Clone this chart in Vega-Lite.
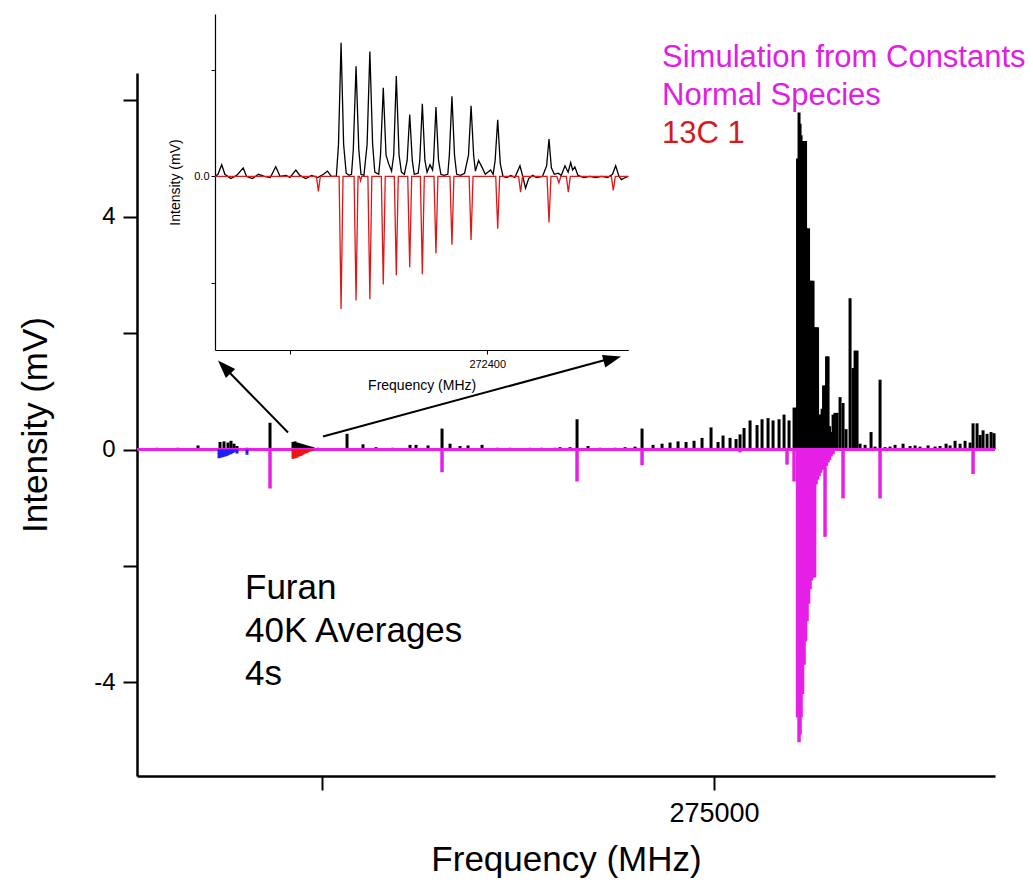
{
  "$schema": "https://vega.github.io/schema/vega-lite/v6.json",
  "width": 858,
  "height": 703,
  "autosize": {"type": "none"},
  "padding": {"left": 137, "top": 73, "right": 38, "bottom": 114},
  "background": "white",
  "config": {
    "font": "Liberation Sans",
    "view": {"stroke": null},
    "axis": {"grid": false, "domainColor": "black", "tickColor": "black", "labelColor": "black", "titleColor": "black", "titleFontWeight": "normal", "labelOverlap": false, "labelFont": "Liberation Sans", "titleFont": "Liberation Sans"}
  },
  "datasets": {
    "obs": [
      {"f": 271447.6, "v": 0.03}, {"f": 271580, "v": 0.03}, {"f": 271709.1, "v": 0.07},
      {"f": 271849.4, "v": 0.13}, {"f": 271874.9, "v": 0.14}, {"f": 271900.5, "v": 0.12}, {"f": 271919.6, "v": 0.15}, {"f": 271938.7, "v": 0.10}, {"f": 271957.9, "v": 0.06},
      {"f": 272021.6, "v": 0.03}, {"f": 272100, "v": 0.02}, {"f": 272168.3, "v": 0.46}, {"f": 272230, "v": 0.02},
      {"f": 272315.0, "v": 0.13}, {"f": 272327.8, "v": 0.14}, {"f": 272340.6, "v": 0.12}, {"f": 272353.3, "v": 0.11}, {"f": 272366.1, "v": 0.10}, {"f": 272378.8, "v": 0.09}, {"f": 272391.6, "v": 0.08}, {"f": 272404.3, "v": 0.07}, {"f": 272417.1, "v": 0.06}, {"f": 272429.8, "v": 0.05}, {"f": 272442.6, "v": 0.04}, {"f": 272474.5, "v": 0.03},
      {"f": 272659.5, "v": 0.27}, {"f": 272761.5, "v": 0.09}, {"f": 272844.4, "v": 0.04}, {"f": 272950, "v": 0.03},
      {"f": 273061.3, "v": 0.08}, {"f": 273099.5, "v": 0.08}, {"f": 273176.1, "v": 0.07}, {"f": 273265.4, "v": 0.36}, {"f": 273316.4, "v": 0.10}, {"f": 273380.2, "v": 0.06}, {"f": 273431.2, "v": 0.07}, {"f": 273520.5, "v": 0.08},
      {"f": 273620, "v": 0.03}, {"f": 273699.1, "v": 0.03}, {"f": 273826.6, "v": 0.03}, {"f": 273900, "v": 0.03}, {"f": 273986.1, "v": 0.03}, {"f": 274018, "v": 0.04}, {"f": 274081.7, "v": 0.04},
      {"f": 274126.4, "v": 0.52}, {"f": 274196.5, "v": 0.06}, {"f": 274273.1, "v": 0.03}, {"f": 274368.8, "v": 0.03}, {"f": 274432.5, "v": 0.04}, {"f": 274496.3, "v": 0.05},
      {"f": 274541, "v": 0.36}, {"f": 274611.1, "v": 0.08}, {"f": 274668.5, "v": 0.10}, {"f": 274719.5, "v": 0.12}, {"f": 274770.6, "v": 0.14}, {"f": 274821.6, "v": 0.13}, {"f": 274872.6, "v": 0.15}, {"f": 274923.6, "v": 0.20},
      {"f": 274981, "v": 0.38}, {"f": 275025.7, "v": 0.13}, {"f": 275057.6, "v": 0.24}, {"f": 275102.2, "v": 0.20}, {"f": 275140.5, "v": 0.18}, {"f": 275166, "v": 0.26},
      {"f": 275191.5, "v": 0.37}, {"f": 275229.8, "v": 0.50}, {"f": 275274.4, "v": 0.42}, {"f": 275306.3, "v": 0.52}, {"f": 275344.6, "v": 0.54}, {"f": 275376.5, "v": 0.50}, {"f": 275414.7, "v": 0.52}, {"f": 275446.6, "v": 0.60}, {"f": 275478.5, "v": 0.50}, {"f": 275510.4, "v": 0.72}, {"f": 275523.2, "v": 0.72},
      {"f": 275532.7, "v": 5.0}, {"f": 275542.3, "v": 5.79}, {"f": 275548.7, "v": 5.6}, {"f": 275555.1, "v": 5.4}, {"f": 275564.6, "v": 5.3}, {"f": 275574.2, "v": 5.3}, {"f": 275583.8, "v": 5.3},
      {"f": 275593.3, "v": 3.8}, {"f": 275602.9, "v": 3.8}, {"f": 275612.5, "v": 2.9}, {"f": 275622, "v": 2.9}, {"f": 275631.6, "v": 2.9}, {"f": 275641.2, "v": 2.1}, {"f": 275650.7, "v": 2.1}, {"f": 275660.3, "v": 2.1},
      {"f": 275669.9, "v": 0.6}, {"f": 275679.4, "v": 0.6}, {"f": 275689, "v": 0.7}, {"f": 275698.6, "v": 1.1}, {"f": 275708.1, "v": 1.1}, {"f": 275717.7, "v": 1.6}, {"f": 275727.3, "v": 1.6},
      {"f": 275736.8, "v": 0.4}, {"f": 275746.4, "v": 0.3}, {"f": 275759.2, "v": 0.6}, {"f": 275771.9, "v": 0.63}, {"f": 275784.7, "v": 0.63}, {"f": 275803.8, "v": 0.9}, {"f": 275822.9, "v": 0.8}, {"f": 275842.1, "v": 0.35},
      {"f": 275867.6, "v": 2.6}, {"f": 275886.7, "v": 1.4}, {"f": 275899.5, "v": 1.7}, {"f": 275912.2, "v": 1.7}, {"f": 275931.4, "v": 0.1}, {"f": 275963.3, "v": 0.08}, {"f": 276001.5, "v": 0.3}, {"f": 276027, "v": 0.05},
      {"f": 276058.9, "v": 1.2}, {"f": 276090.8, "v": 0.04}, {"f": 276122.7, "v": 0.05}, {"f": 276154.6, "v": 0.08}, {"f": 276205.6, "v": 0.10}, {"f": 276250.3, "v": 0.06}, {"f": 276282.2, "v": 0.07}, {"f": 276314, "v": 0.05},
      {"f": 276365.1, "v": 0.07}, {"f": 276409.7, "v": 0.05}, {"f": 276441.6, "v": 0.06}, {"f": 276479.9, "v": 0.10}, {"f": 276505.4, "v": 0.07}, {"f": 276537.3, "v": 0.15}, {"f": 276569.2, "v": 0.10}, {"f": 276601.1, "v": 0.15}, {"f": 276633, "v": 0.12},
      {"f": 276652.1, "v": 0.45}, {"f": 276677.6, "v": 0.45}, {"f": 276697, "v": 0.25}, {"f": 276715.9, "v": 0.33}, {"f": 276741.4, "v": 0.27}, {"f": 276766.9, "v": 0.30}, {"f": 276786, "v": 0.28}
    ],
    "sim": [
      {"f": 272168.3, "v": -0.67}, {"f": 273265.4, "v": -0.39}, {"f": 274126.4, "v": -0.55}, {"f": 274541, "v": -0.27}, {"f": 275166, "v": -0.05},
      {"f": 275465.8, "v": -0.26}, {"f": 275510.4, "v": -0.55}, {"f": 275532.7, "v": -4.6}, {"f": 275542.3, "v": -5.03}, {"f": 275548.7, "v": -4.9}, {"f": 275555.1, "v": -4.6},
      {"f": 275564.6, "v": -4.2}, {"f": 275574.2, "v": -3.7}, {"f": 275583.8, "v": -3.3}, {"f": 275593.3, "v": -2.95}, {"f": 275602.9, "v": -2.65}, {"f": 275612.5, "v": -2.4}, {"f": 275622, "v": -2.25},
      {"f": 275631.6, "v": -2.2}, {"f": 275641.2, "v": -2.2}, {"f": 275650.7, "v": -0.6}, {"f": 275660.3, "v": -0.52}, {"f": 275669.9, "v": -0.46}, {"f": 275679.4, "v": -0.4}, {"f": 275689, "v": -0.35},
      {"f": 275698.6, "v": -0.32}, {"f": 275708.1, "v": -1.5}, {"f": 275717.7, "v": -0.28}, {"f": 275727.3, "v": -0.22}, {"f": 275736.8, "v": -0.18}, {"f": 275746.4, "v": -0.12}, {"f": 275759.2, "v": -0.08},
      {"f": 275822.9, "v": -0.84}, {"f": 276058.9, "v": -0.84}, {"f": 276652.1, "v": -0.42}
    ],
    "iso": [
      {"f": 271843.1, "v": -0.15, "species": "13C 2"}, {"f": 271855.8, "v": -0.14, "species": "13C 2"}, {"f": 271868.6, "v": -0.13, "species": "13C 2"}, {"f": 271881.3, "v": -0.12, "species": "13C 2"},
      {"f": 271894.1, "v": -0.11, "species": "13C 2"}, {"f": 271906.8, "v": -0.09, "species": "13C 2"}, {"f": 271919.6, "v": -0.08, "species": "13C 2"}, {"f": 271932.4, "v": -0.06, "species": "13C 2"},
      {"f": 271945.1, "v": -0.04, "species": "13C 2"}, {"f": 271957.9, "v": -0.07, "species": "13C 2"}, {"f": 272021.6, "v": -0.09, "species": "13C 2"},
      {"f": 272315.0, "v": -0.16, "species": "13C 1"}, {"f": 272327.8, "v": -0.15, "species": "13C 1"}, {"f": 272340.6, "v": -0.14, "species": "13C 1"}, {"f": 272353.3, "v": -0.12, "species": "13C 1"},
      {"f": 272366.1, "v": -0.11, "species": "13C 1"}, {"f": 272378.8, "v": -0.09, "species": "13C 1"}, {"f": 272391.6, "v": -0.07, "species": "13C 1"}, {"f": 272404.3, "v": -0.06, "species": "13C 1"},
      {"f": 272417.1, "v": -0.04, "species": "13C 1"}, {"f": 272429.8, "v": -0.03, "species": "13C 1"}, {"f": 272442.6, "v": -0.02, "species": "13C 1"}
    ],
    "inset_obs": [
      {"f": 272262, "v": 0.000}, {"f": 272263.5, "v": 0.002}, {"f": 272265.4, "v": 0.011}, {"f": 272267, "v": 0.002}, {"f": 272270, "v": -0.002}, {"f": 272273, "v": 0.001},
      {"f": 272276.3, "v": 0.008}, {"f": 272278, "v": 0.000}, {"f": 272281, "v": -0.002}, {"f": 272284, "v": 0.002}, {"f": 272287, "v": 0.000}, {"f": 272290, "v": -0.001},
      {"f": 272292.8, "v": 0.009}, {"f": 272295, "v": 0.000}, {"f": 272298, "v": 0.001}, {"f": 272300, "v": -0.001}, {"f": 272303, "v": 0.006}, {"f": 272305, "v": 0.001},
      {"f": 272308, "v": -0.002}, {"f": 272311, "v": 0.001}, {"f": 272314, "v": -0.001}, {"f": 272317, "v": 0.002}, {"f": 272319, "v": 0.005}, {"f": 272321, "v": 0.000},
      {"f": 272323.5, "v": 0.000}, {"f": 272324.6, "v": 0.03}, {"f": 272325.9, "v": 0.125}, {"f": 272327.2, "v": 0.03}, {"f": 272328.5, "v": 0.003}, {"f": 272330, "v": 0.001},
      {"f": 272331.2, "v": 0.002}, {"f": 272332.1, "v": 0.025}, {"f": 272333.5, "v": 0.103}, {"f": 272334.9, "v": 0.025}, {"f": 272336, "v": 0.002}, {"f": 272337.5, "v": 0.001},
      {"f": 272339.1, "v": 0.03}, {"f": 272340.5, "v": 0.117}, {"f": 272341.9, "v": 0.03}, {"f": 272343, "v": 0.004}, {"f": 272345, "v": 0.002},
      {"f": 272345.9, "v": 0.02}, {"f": 272347.3, "v": 0.083}, {"f": 272348.7, "v": 0.02}, {"f": 272350, "v": 0.012}, {"f": 272351.5, "v": 0.005},
      {"f": 272352.6, "v": 0.02}, {"f": 272353.9, "v": 0.094}, {"f": 272355.3, "v": 0.02}, {"f": 272356.5, "v": 0.004}, {"f": 272358, "v": 0.002},
      {"f": 272359.4, "v": 0.015}, {"f": 272360.7, "v": 0.058}, {"f": 272362, "v": 0.015}, {"f": 272363, "v": 0.002}, {"f": 272365, "v": 0.003},
      {"f": 272365.8, "v": 0.015}, {"f": 272367.1, "v": 0.068}, {"f": 272368.4, "v": 0.015}, {"f": 272369.5, "v": 0.004}, {"f": 272371, "v": 0.011}, {"f": 272372.3, "v": 0.006},
      {"f": 272372.8, "v": 0.015}, {"f": 272374, "v": 0.065}, {"f": 272375.3, "v": 0.015}, {"f": 272376.5, "v": 0.002}, {"f": 272378, "v": 0.001}, {"f": 272380, "v": 0.002},
      {"f": 272380.8, "v": 0.02}, {"f": 272382.1, "v": 0.075}, {"f": 272383.4, "v": 0.02}, {"f": 272384.5, "v": 0.002}, {"f": 272386.5, "v": 0.001}, {"f": 272388.5, "v": 0.003},
      {"f": 272390.5, "v": 0.02}, {"f": 272391.8, "v": 0.066}, {"f": 272393.1, "v": 0.02}, {"f": 272394, "v": 0.005}, {"f": 272395.6, "v": 0.015}, {"f": 272397.5, "v": 0.008},
      {"f": 272399, "v": 0.002}, {"f": 272401.7, "v": 0.006}, {"f": 272403, "v": 0.002}, {"f": 272404, "v": 0.015}, {"f": 272405.3, "v": 0.053}, {"f": 272406.6, "v": 0.012},
      {"f": 272408, "v": 0.000}, {"f": 272410, "v": -0.001}, {"f": 272412, "v": 0.001}, {"f": 272414, "v": -0.001}, {"f": 272416.6, "v": 0.010}, {"f": 272418, "v": 0.000},
      {"f": 272419.4, "v": -0.011}, {"f": 272421, "v": -0.002}, {"f": 272423, "v": 0.001}, {"f": 272425, "v": -0.001}, {"f": 272428, "v": 0.000}, {"f": 272430.1, "v": 0.010},
      {"f": 272431.3, "v": 0.035}, {"f": 272432.5, "v": 0.008}, {"f": 272434, "v": 0.002}, {"f": 272436, "v": 0.003}, {"f": 272437.5, "v": 0.001}, {"f": 272439.4, "v": 0.010},
      {"f": 272441, "v": 0.004}, {"f": 272442.3, "v": 0.013}, {"f": 272443.3, "v": 0.006}, {"f": 272444.4, "v": 0.009}, {"f": 272446, "v": 0.001}, {"f": 272449, "v": -0.001},
      {"f": 272452, "v": 0.000}, {"f": 272455, "v": -0.001}, {"f": 272458, "v": 0.000}, {"f": 272461, "v": -0.001}, {"f": 272463.5, "v": 0.002}, {"f": 272465.1, "v": 0.010},
      {"f": 272466.8, "v": 0.000}, {"f": 272468, "v": -0.003}, {"f": 272470, "v": -0.001}, {"f": 272471.5, "v": 0.000}
    ],
    "inset_sim": [
      {"f": 272262, "v": 0}, {"f": 272313.4, "v": 0}, {"f": 272314.4, "v": -0.014}, {"f": 272315.4, "v": 0},
      {"f": 272324.9, "v": 0}, {"f": 272325.9, "v": -0.124}, {"f": 272326.9, "v": 0},
      {"f": 272332.5, "v": 0}, {"f": 272333.5, "v": -0.116}, {"f": 272334.5, "v": 0},
      {"f": 272335.2, "v": 0}, {"f": 272335.8, "v": -0.004}, {"f": 272336.4, "v": 0},
      {"f": 272339.5, "v": 0}, {"f": 272340.5, "v": -0.115}, {"f": 272341.5, "v": 0},
      {"f": 272346.3, "v": 0}, {"f": 272347.3, "v": -0.101}, {"f": 272348.3, "v": 0},
      {"f": 272352.9, "v": 0}, {"f": 272353.9, "v": -0.0925}, {"f": 272354.9, "v": 0},
      {"f": 272359.7, "v": 0}, {"f": 272360.7, "v": -0.085}, {"f": 272361.7, "v": 0},
      {"f": 272366.1, "v": 0}, {"f": 272367.1, "v": -0.0915}, {"f": 272368.1, "v": 0},
      {"f": 272373, "v": 0}, {"f": 272374, "v": -0.072}, {"f": 272375, "v": 0},
      {"f": 272381.1, "v": 0}, {"f": 272382.1, "v": -0.064}, {"f": 272383.1, "v": 0},
      {"f": 272390.8, "v": 0}, {"f": 272391.8, "v": -0.0594}, {"f": 272392.8, "v": 0},
      {"f": 272404.3, "v": 0}, {"f": 272405.3, "v": -0.049}, {"f": 272406.3, "v": 0},
      {"f": 272415.9, "v": 0}, {"f": 272416.9, "v": -0.0146}, {"f": 272417.9, "v": 0},
      {"f": 272430.3, "v": 0}, {"f": 272431.3, "v": -0.043}, {"f": 272432.3, "v": 0},
      {"f": 272435.3, "v": 0}, {"f": 272436.3, "v": -0.006}, {"f": 272437.3, "v": 0},
      {"f": 272440.1, "v": 0}, {"f": 272441.1, "v": -0.0146}, {"f": 272442.1, "v": 0},
      {"f": 272462.9, "v": 0}, {"f": 272463.9, "v": -0.013}, {"f": 272464.9, "v": 0},
      {"f": 272471.5, "v": 0}
    ]
  },
  "layer": [
    {
      "data": {"name": "obs"},
      "mark": {"type": "rule", "color": "black", "strokeWidth": 3},
      "encoding": {
        "x": {"field": "f", "type": "quantitative", "scale": {"domain": [271320, 276792], "nice": false, "zero": false},
          "axis": {"orient": "bottom", "title": "Frequency (MHz)", "values": [272500, 275000], "labelExpr": "datum.value === 275000 ? '275000' : ''", "tickSize": 14, "tickWidth": 2, "domainWidth": 2.5, "labelFontSize": 27, "labelPadding": 10, "titleFontSize": 35, "titlePadding": 16}},
        "y": {"field": "v", "type": "quantitative", "scale": {"domain": [-5.61, 6.47], "nice": false, "zero": false},
          "axis": {"orient": "left", "title": "Intensity (mV)", "values": [-4, -2, 0, 2, 4, 6], "labelExpr": "datum.value % 4 === 0 ? '' + datum.value : ''", "tickSize": 14, "tickWidth": 2, "domainWidth": 2.5, "labelFontSize": 24, "labelPadding": 8, "titleFontSize": 35, "titlePadding": 40}},
        "y2": {"datum": 0}
      }
    },
    {
      "data": {"values": [{}]},
      "mark": {"type": "rule", "color": "#e620e6", "strokeWidth": 3},
      "encoding": {
        "x": {"datum": 271320, "type": "quantitative", "scale": {"domain": [271320, 276792], "nice": false, "zero": false}, "axis": null},
        "x2": {"datum": 276792},
        "y": {"datum": 0, "type": "quantitative", "scale": {"domain": [-5.61, 6.47], "nice": false, "zero": false}, "axis": null}
      }
    },
    {
      "data": {"name": "sim"},
      "mark": {"type": "rule", "color": "#e620e6", "strokeWidth": 3.5},
      "encoding": {
        "x": {"field": "f", "type": "quantitative", "scale": {"domain": [271320, 276792], "nice": false, "zero": false}, "axis": null},
        "y": {"field": "v", "type": "quantitative", "scale": {"domain": [-5.61, 6.47], "nice": false, "zero": false}, "axis": null},
        "y2": {"datum": 0}
      }
    },
    {
      "data": {"name": "iso"},
      "mark": {"type": "rule", "strokeWidth": 3},
      "encoding": {
        "x": {"field": "f", "type": "quantitative", "scale": {"domain": [271320, 276792], "nice": false, "zero": false}, "axis": null},
        "y": {"field": "v", "type": "quantitative", "scale": {"domain": [-5.61, 6.47], "nice": false, "zero": false}, "axis": null},
        "y2": {"datum": 0},
        "color": {"field": "species", "type": "nominal", "scale": {"domain": ["13C 1", "13C 2"], "range": ["#ee1515", "#1f1ff5"]}, "legend": null}
      }
    },
    {
      "data": {"values": [{}]},
      "mark": {"type": "text", "align": "left", "baseline": "alphabetic", "fontSize": 35, "color": "black", "lineBreak": "\n", "lineHeight": 43},
      "encoding": {
        "x": {"datum": 272008.9, "type": "quantitative", "scale": {"domain": [271320, 276792], "nice": false, "zero": false}, "axis": null},
        "y": {"datum": -2.575, "type": "quantitative", "scale": {"domain": [-5.61, 6.47], "nice": false, "zero": false}, "axis": null},
        "text": {"value": "Furan\n40K Averages\n4s"}
      }
    },
    {
      "data": {"values": [{}]},
      "mark": {"type": "text", "align": "left", "baseline": "alphabetic", "fontSize": 31, "color": "#e020e0", "lineBreak": "\n", "lineHeight": 38},
      "encoding": {
        "x": {"datum": 274668.5, "type": "quantitative", "scale": {"domain": [271320, 276792], "nice": false, "zero": false}, "axis": null},
        "y": {"datum": 6.575, "type": "quantitative", "scale": {"domain": [-5.61, 6.47], "nice": false, "zero": false}, "axis": null},
        "text": {"value": "Simulation from Constants\nNormal Species"}
      }
    },
    {
      "data": {"values": [{}]},
      "mark": {"type": "text", "align": "left", "baseline": "alphabetic", "fontSize": 31, "color": "#d41a1a"},
      "encoding": {
        "x": {"datum": 274668.5, "type": "quantitative", "scale": {"domain": [271320, 276792], "nice": false, "zero": false}, "axis": null},
        "y": {"datum": 5.27, "type": "quantitative", "scale": {"domain": [-5.61, 6.47], "nice": false, "zero": false}, "axis": null},
        "text": {"value": "13C 1"}
      }
    },
    {
      "data": {"values": [{}]},
      "mark": {"type": "rule", "color": "black", "strokeWidth": 2},
      "encoding": {
        "x": {"datum": 272283.2, "type": "quantitative", "scale": {"domain": [271320, 276792], "nice": false, "zero": false}, "axis": null},
        "x2": {"datum": 271860},
        "y": {"datum": 0.292, "type": "quantitative", "scale": {"domain": [-5.61, 6.47], "nice": false, "zero": false}, "axis": null},
        "y2": {"datum": 1.46}
      }
    },
    {
      "data": {"values": [{}]},
      "mark": {"type": "rule", "color": "black", "strokeWidth": 2},
      "encoding": {
        "x": {"datum": 272506.4, "type": "quantitative", "scale": {"domain": [271320, 276792], "nice": false, "zero": false}, "axis": null},
        "x2": {"datum": 274370},
        "y": {"datum": 0.223, "type": "quantitative", "scale": {"domain": [-5.61, 6.47], "nice": false, "zero": false}, "axis": null},
        "y2": {"datum": 1.585}
      }
    },
    {
      "data": {"values": [{}]},
      "mark": {"type": "point", "shape": "M0,0L-0.36,1L0.36,1Z", "filled": true, "color": "black", "opacity": 1, "size": 1296, "angle": 316, "strokeWidth": 0},
      "encoding": {
        "x": {"datum": 271836.7, "type": "quantitative", "scale": {"domain": [271320, 276792], "nice": false, "zero": false}, "axis": null},
        "y": {"datum": 1.528, "type": "quantitative", "scale": {"domain": [-5.61, 6.47], "nice": false, "zero": false}, "axis": null}
      }
    },
    {
      "data": {"values": [{}]},
      "mark": {"type": "point", "shape": "M0,0L-0.36,1L0.36,1Z", "filled": true, "color": "black", "opacity": 1, "size": 1296, "angle": 75, "strokeWidth": 0},
      "encoding": {
        "x": {"datum": 274406.9, "type": "quantitative", "scale": {"domain": [271320, 276792], "nice": false, "zero": false}, "axis": null},
        "y": {"datum": 1.597, "type": "quantitative", "scale": {"domain": [-5.61, 6.47], "nice": false, "zero": false}, "axis": null}
      }
    },
    {
      "data": {"name": "inset_obs"},
      "mark": {"type": "line", "color": "black", "strokeWidth": 1.3},
      "encoding": {
        "x": {"field": "f", "type": "quantitative", "scale": {"domain": [272262, 272471.5], "range": [78, 491.3], "nice": false, "zero": false},
          "axis": {"orient": "bottom", "offset": -426, "title": "Frequency (MHz)", "values": [272300, 272400], "labelExpr": "datum.value === 272400 ? '272400' : ''", "tickSize": 4, "tickWidth": 1, "domainWidth": 1.2, "labelFontSize": 11, "labelPadding": 4, "titleFontSize": 14, "titlePadding": 9}},
        "y": {"field": "v", "type": "quantitative", "scale": {"domain": [-0.1624, 0.152], "range": [277, -59], "nice": false, "zero": false},
          "axis": {"orient": "left", "offset": -78, "title": "Intensity (mV)", "values": [-0.1, 0, 0.1], "labelExpr": "datum.value === 0 ? '0.0' : ''", "tickSize": 4, "tickWidth": 1, "domainWidth": 1.2, "labelFontSize": 11, "labelPadding": 2, "titleFontSize": 14, "titlePadding": 11}}
      }
    },
    {
      "data": {"name": "inset_sim"},
      "mark": {"type": "line", "color": "#dd1818", "strokeWidth": 1.3},
      "encoding": {
        "x": {"field": "f", "type": "quantitative", "scale": {"domain": [272262, 272471.5], "range": [78, 491.3], "nice": false, "zero": false}, "axis": null},
        "y": {"field": "v", "type": "quantitative", "scale": {"domain": [-0.1624, 0.152], "range": [277, -59], "nice": false, "zero": false}, "axis": null}
      }
    }
  ],
  "resolve": {"scale": {"x": "independent", "y": "independent"}}
}
